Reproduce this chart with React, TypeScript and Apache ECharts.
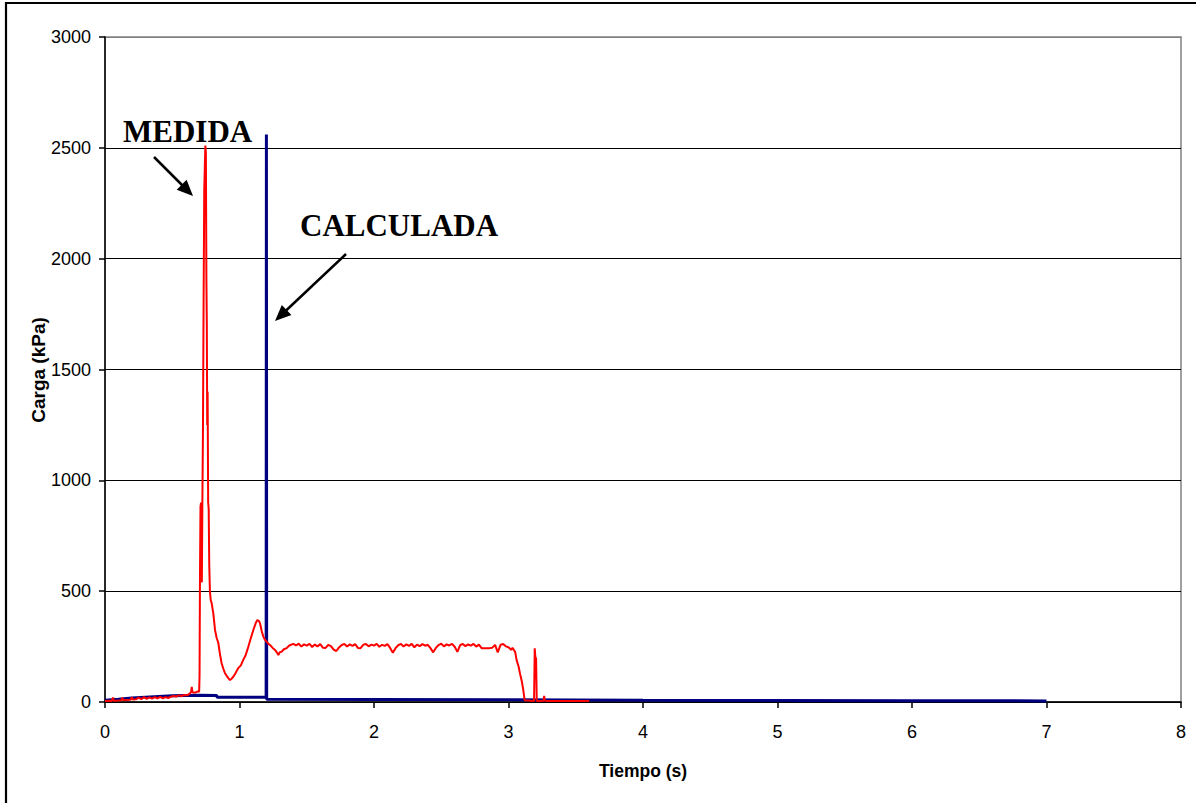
import React, { useEffect, useRef } from "react";
import * as echarts from "echarts";

// Tiempo (s) vs Carga (kPa)
const calculatedData: [number, number][] = [
  [0, 8], [0.1, 12], [0.2, 18], [0.3, 22], [0.4, 25], [0.5, 28], [0.6, 29], [0.7, 30],
  [0.83, 29], [0.835, 21], [1.198, 21], [1.2, 2560], [1.202, 12], [2, 11], [3, 10],
  [4, 8], [5, 7], [6, 6], [7, 5],
];

const measuredStart: [number, number][] = [
  [0.0, 5], [0.03, 6], [0.05, 5], [0.06, 20], [0.065, 6], [0.1, 7], [0.12, 8], [0.13, 19],
  [0.135, 8], [0.16, 9], [0.19, 10], [0.2, 21], [0.205, 11], [0.23, 12], [0.25, 20], [0.27, 13],
  [0.29, 22], [0.31, 14], [0.33, 21], [0.35, 15], [0.37, 22], [0.39, 16], [0.41, 23], [0.43, 17],
  [0.45, 22], [0.47, 18], [0.49, 24], [0.51, 27], [0.53, 25], [0.55, 30], [0.57, 27], [0.59, 32],
  [0.61, 30], [0.63, 38], [0.64, 45], [0.645, 68], [0.65, 44], [0.67, 42], [0.69, 48], [0.7, 46],
];

const measuredPeak: [number, number][] = [
  [0.703, 120], [0.706, 550], [0.71, 880], [0.714, 900], [0.717, 560], [0.72, 540], [0.724, 900],
  [0.728, 1200], [0.733, 1800], [0.738, 2310], [0.742, 2310], [0.746, 2510], [0.75, 2480],
  [0.754, 1900], [0.757, 1700], [0.76, 1250], [0.763, 1400], [0.767, 900], [0.771, 870],
  [0.775, 620], [0.78, 500], [0.786, 460],
];

const measuredDecay: [number, number][] = [
  [0.793, 446], [0.805, 401], [0.818, 325], [0.83, 290], [0.843, 265], [0.855, 215], [0.867, 175],
  [0.88, 150], [0.892, 130], [0.905, 118], [0.917, 108], [0.929, 99], [0.94, 104], [0.954, 114],
  [0.97, 130], [0.991, 153], [1.01, 165], [1.028, 190], [1.045, 210], [1.066, 250], [1.085, 290],
  [1.103, 325], [1.12, 355], [1.133, 370], [1.145, 365], [1.152, 356], [1.165, 320], [1.177, 295],
  [1.19, 280], [1.202, 272], [1.215, 262], [1.227, 257], [1.245, 245], [1.264, 235], [1.28, 222],
  [1.289, 212], [1.3, 225], [1.314, 227], [1.33, 238], [1.351, 243], [1.37, 255],
];

const measuredPlateau: [number, number][] = [
  [1.4, 262], [1.42, 255], [1.44, 263], [1.46, 250], [1.48, 260], [1.5, 254], [1.52, 262],
  [1.54, 248], [1.56, 259], [1.58, 251], [1.6, 261], [1.62, 245], [1.64, 244], [1.66, 258],
  [1.68, 252], [1.7, 236], [1.72, 230], [1.74, 246], [1.76, 257], [1.78, 262], [1.8, 250],
  [1.82, 260], [1.84, 253], [1.86, 261], [1.88, 244], [1.9, 243], [1.92, 258], [1.94, 262],
  [1.96, 251], [1.98, 259], [2.0, 254], [2.02, 262], [2.04, 249], [2.06, 258], [2.08, 253],
  [2.1, 261], [2.12, 244], [2.14, 222], [2.16, 243], [2.18, 256], [2.2, 262], [2.22, 250],
  [2.24, 260], [2.26, 253], [2.28, 262], [2.3, 247], [2.32, 259], [2.34, 252], [2.36, 261],
  [2.38, 254], [2.4, 258], [2.42, 243], [2.44, 224], [2.46, 244], [2.48, 257], [2.5, 263],
  [2.52, 251], [2.54, 260], [2.56, 255], [2.58, 262], [2.6, 249], [2.62, 226], [2.64, 256],
  [2.66, 262], [2.68, 252], [2.7, 260], [2.72, 254], [2.74, 262], [2.76, 250], [2.78, 259],
  [2.8, 243], [2.82, 243], [2.84, 242], [2.86, 243], [2.88, 245], [2.9, 258], [2.92, 224],
  [2.94, 257], [2.96, 262], [2.98, 251], [3.0, 247],
];

const measuredEnd: [number, number][] = [
  [3.02, 235], [3.03, 245], [3.05, 225], [3.06, 190], [3.075, 160], [3.085, 130], [3.1, 90],
  [3.11, 54], [3.12, 8], [3.19, 5], [3.195, 242], [3.2, 200], [3.205, 198], [3.21, 5],
  [3.26, 6], [3.265, 27], [3.27, 6], [3.31, 5], [3.6, 5],
];

const measuredData: [number, number][] = [
  ...measuredStart, ...measuredPeak, ...measuredDecay, ...measuredPlateau, ...measuredEnd,
];

const xMin = 0, xMax = 8, xStep = 1;
const yMin = 0, yMax = 3000, yStep = 500;
const seriesNames = ["CALCULADA", "MEDIDA"];
const xTitle = "Tiempo (s)";
const yTitle = "Carga (kPa)";

const tickFont = "'Liberation Sans Narrow', 'Liberation Sans', Arial, sans-serif";

export default function App() {
  const ref = useRef<HTMLDivElement>(null);
  useEffect(() => {
    if (!ref.current) return;
    const chart = echarts.init(ref.current, null, { renderer: "svg" });
    const gridColors = ["#000", "#000", "#000", "#000", "#000", "#000", "#808080"];
    chart.setOption({
      animation: false,
      backgroundColor: "#fff",
      grid: {
        left: 105, top: 37, width: 1076, height: 665,
        show: true, borderColor: "#808080", borderWidth: 1.5, backgroundColor: "transparent",
      },
      xAxis: {
        type: "value", min: xMin, max: xMax, interval: xStep,
        axisLine: { show: true, onZero: false, lineStyle: { color: "#000", width: 1.5 } },
        axisTick: { show: true, length: 6, lineStyle: { color: "#000", width: 1.5 } },
        axisLabel: {
          margin: 21, color: "#000", fontSize: 18, fontFamily: tickFont,
          formatter: (v: number) => String(v),
        },
        splitLine: { show: false },
      },
      yAxis: {
        type: "value", min: yMin, max: yMax, interval: yStep,
        axisLine: { show: true, lineStyle: { color: "#000", width: 1.5 } },
        axisTick: { show: true, length: 6, lineStyle: { color: "#000", width: 1.5 } },
        axisLabel: {
          margin: 14, color: "#000", fontSize: 18, fontFamily: tickFont,
          formatter: (v: number) => String(v),
        },
        splitLine: { show: true, lineStyle: { color: gridColors, width: 1.2 } },
      },
      series: [
        {
          name: seriesNames[0], type: "line", data: calculatedData, showSymbol: false,
          lineStyle: { color: "#000080", width: 3 }, z: 2,
        },
        {
          name: seriesNames[1], type: "line", data: measuredData, showSymbol: false,
          lineStyle: { color: "#ff0000", width: 2 }, z: 3,
        },
      ],
      graphic: [
        {
          type: "rect", silent: true, z: 100,
          shape: { x: 6, y: 3, width: 1210, height: 820 },
          style: { fill: "none", stroke: "#000", lineWidth: 2.2 },
        },
        {
          type: "text", x: 38, y: 370, rotation: Math.PI / 2, z: 100,
          style: {
            text: yTitle, align: "center", verticalAlign: "middle",
            font: "bold 19px 'Liberation Sans', Arial, sans-serif", fill: "#000",
          },
        },
        {
          type: "text", x: 643, y: 771, z: 100,
          style: {
            text: xTitle, align: "center", verticalAlign: "middle",
            font: "bold 17.5px 'Liberation Sans', Arial, sans-serif", fill: "#000",
          },
        },
        {
          type: "text", x: 123, y: 131, z: 100,
          style: {
            text: seriesNames[1], align: "left", verticalAlign: "middle",
            font: "bold 31px 'Liberation Serif', 'Times New Roman', serif", fill: "#000",
          },
        },
        {
          type: "text", x: 300, y: 225.5, z: 100,
          style: {
            text: seriesNames[0], align: "left", verticalAlign: "middle",
            font: "bold 31px 'Liberation Serif', 'Times New Roman', serif", fill: "#000",
          },
        },
        {
          type: "line", z: 100,
          shape: { x1: 154, y1: 157, x2: 183, y2: 186 },
          style: { stroke: "#000", lineWidth: 2.5 },
        },
        {
          type: "polygon", z: 100,
          shape: { points: [[193, 196], [176.7, 189.7], [186.6, 179.7]] },
          style: { fill: "#000" },
        },
        {
          type: "line", z: 100,
          shape: { x1: 346, y1: 254, x2: 285, y2: 311.5 },
          style: { stroke: "#000", lineWidth: 2.5 },
        },
        {
          type: "polygon", z: 100,
          shape: { points: [[275, 321], [291.4, 315.1], [281.8, 304.9]] },
          style: { fill: "#000" },
        },
      ],
    });
    return () => chart.dispose();
  }, []);
  return (
    <div
      ref={ref}
      style={{ position: "absolute", left: 0, top: 0, width: 1196, height: 803 }}
    />
  );
}
